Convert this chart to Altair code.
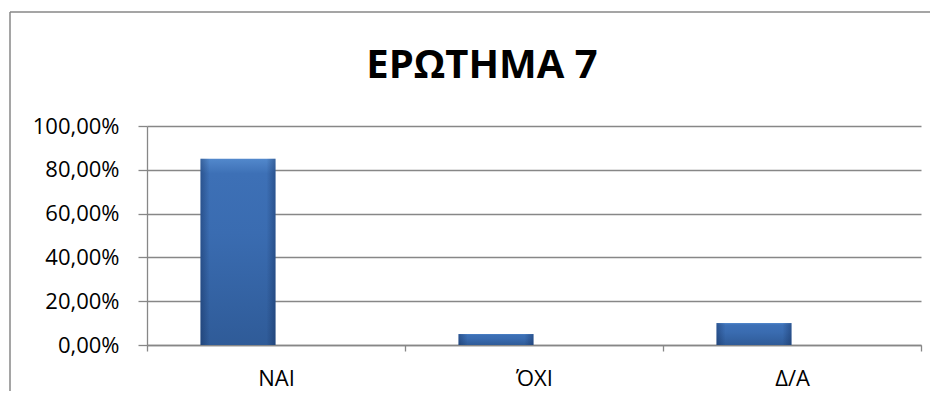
import altair as alt
import pandas as pd

categories = ["ΝΑΙ", "ΌΧΙ", "Δ/Α"]
values = [0.85, 0.05, 0.10]
title_text = "ΕΡΩΤΗΜΑ 7"
y_ticks = [0, 0.2, 0.4, 0.6, 0.8, 1.0]

df = pd.DataFrame({"cat": categories, "val": values})

W, H = 774, 219
PAD_R = 9
grey = "#878787"
font = "Open Sans"

x_enc = alt.X(
    "cat:N", sort=categories, title=None,
    scale=alt.Scale(paddingInner=0, paddingOuter=0),
    axis=alt.Axis(labelAngle=0, tickBand="extent", tickSize=6, labelPadding=17,
                  labelFontSize=22, labelFont=font, labelColor="#000000",
                  domainColor=grey, tickColor=grey, domainWidth=1.3, tickWidth=1.3,
                  grid=False),
)
y_enc = alt.Y(
    "val:Q", title=None,
    scale=alt.Scale(domain=[0, 1], nice=False),
    axis=alt.Axis(values=y_ticks,
                  labelExpr="replace(format(datum.value, '.2%'), '.', ',')",
                  tickSize=9, labelPadding=19, labelFontSize=22, labelFont=font,
                  labelColor="#000000", domainColor=grey, tickColor=grey,
                  domainWidth=1.3, tickWidth=1.3, grid=True, gridColor=grey,
                  gridWidth=1.3),
)

base = alt.Chart(df)

bars = base.mark_bar(
    size=75, xOffset=-38,
    fill=alt.Gradient(
        gradient="linear", x1=0, x2=0, y1=0, y2=1,
        stops=[alt.GradientStop(color="#5288cc", offset=0),
               alt.GradientStop(color="#3d70b6", offset=0.08),
               alt.GradientStop(color="#3a6cb1", offset=0.4),
               alt.GradientStop(color="#2f5b98", offset=1)],
    ),
).encode(x=x_enc, y=y_enc)

shade = base.mark_bar(
    size=75, xOffset=-38,
    fill=alt.Gradient(
        gradient="linear", x1=0, x2=1, y1=0, y2=0,
        stops=[alt.GradientStop(color="rgba(10,30,70,0.35)", offset=0),
               alt.GradientStop(color="rgba(10,30,70,0)", offset=0.12),
               alt.GradientStop(color="rgba(10,30,70,0)", offset=0.88),
               alt.GradientStop(color="rgba(10,30,70,0.35)", offset=1)],
    ),
).encode(x=x_enc, y=y_enc)

one = alt.Chart(pd.DataFrame({"a": [0]}))

border_top = one.mark_rule(stroke=grey, strokeWidth=1.5).encode(
    x=alt.value(-137), x2=alt.value(W + PAD_R), y=alt.value(-114),
)
border_left = one.mark_rule(stroke=grey, strokeWidth=1.5).encode(
    x=alt.value(-137), y=alt.value(-114), y2=alt.value(H + 46),
)

title = one.mark_text(
    text=title_text, font=font, fontSize=40, fontWeight="bold", color="#000000",
    align="center", baseline="alphabetic",
).encode(x=alt.value(335), y=alt.value(-48))

chart = alt.layer(border_top, border_left, bars, shade, title).properties(
    width=W, height=H,
    background="white",
    autosize=alt.AutoSizeParams(type="none"),
    padding={"left": 139, "top": 118, "right": PAD_R, "bottom": 46},
).configure_view(strokeWidth=0, stroke="transparent")

chart.save("out.html", embed_options={"renderer": "svg", "actions": False})
